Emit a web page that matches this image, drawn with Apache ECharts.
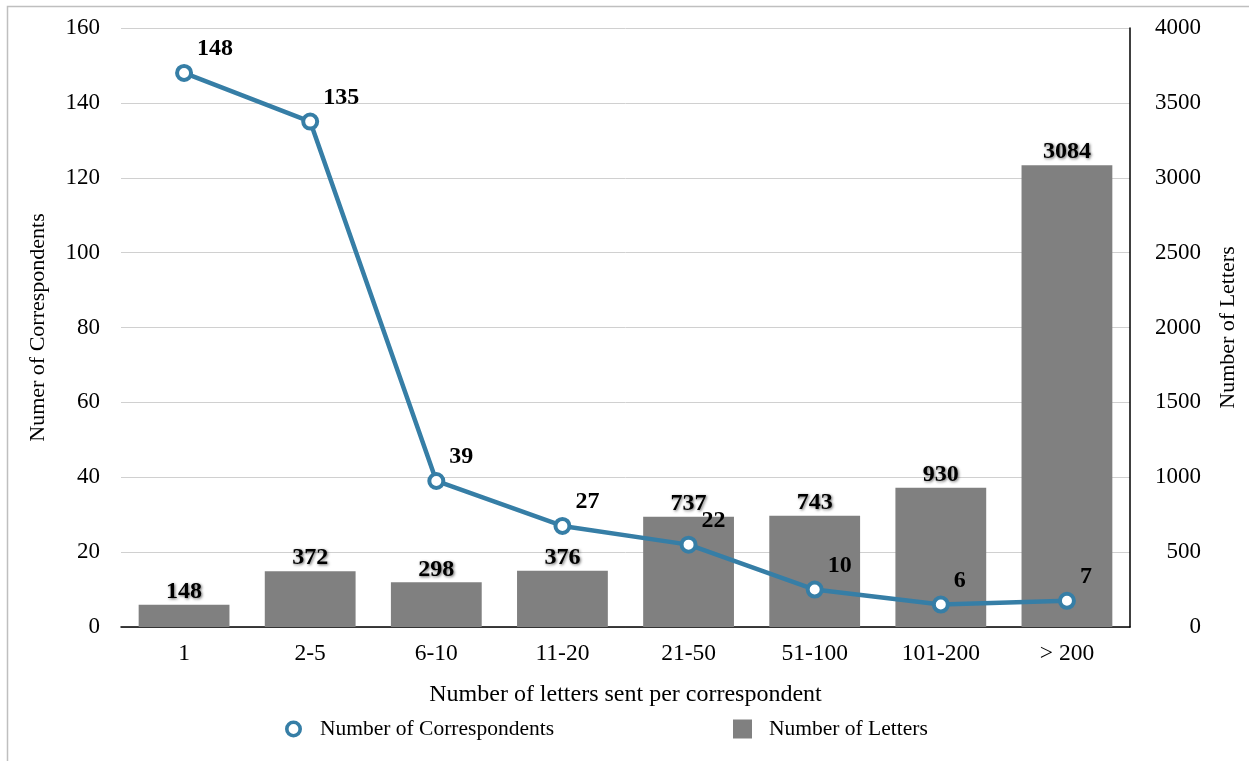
<!DOCTYPE html>
<html>
<head>
<meta charset="utf-8">
<script src="https://cdn.jsdelivr.net/npm/echarts@6/dist/echarts.min.js"></script>
<style>
  html, body { margin: 0; padding: 0; background: #fff; }
  #main { width: 1249px; height: 761px; }
</style>
</head>
<body>
<div id="main"></div>
<script>
const categories = ["1", "2-5", "6-10", "11-20", "21-50", "51-100", "101-200", "> 200"];
const correspondents = [148, 135, 39, 27, 22, 10, 6, 7];
const letters = [148, 372, 298, 376, 737, 743, 930, 3084];

const serif = "'Liberation Serif', 'Times New Roman', serif";
const lineColor = "#367ea6";
const barColor = "#808080";
const ring = "path://M8,0A8,8,0,1,1,8,16A8,8,0,1,1,8,0ZM8,3.4A4.6,4.6,0,1,0,8,12.6A4.6,4.6,0,1,0,8,3.4Z";

const options = {
  animation: false,
  textStyle: { fontFamily: serif },
  graphic: [{
    type: "rect",
    shape: { x: 7.5, y: 6.5, width: 1300, height: 800 },
    style: { fill: "none", stroke: "#bfbfbf", lineWidth: 1.5 },
    silent: true
  }],
  grid: { left: 121, right: 119, top: 28, bottom: 134, outerBoundsMode: "none" },
  legend: [{
    left: 280, top: 713,
    itemWidth: 17, itemHeight: 17,
    textStyle: { fontFamily: serif, fontSize: 21.5, color: "#000", padding: [0, 0, 0, 13] },
    data: [{ name: "Number of Correspondents", icon: ring,
      itemStyle: { color: lineColor, borderWidth: 0 } }]
  }, {
    left: 728, top: 713,
    itemWidth: 19, itemHeight: 19,
    textStyle: { fontFamily: serif, fontSize: 21.5, color: "#000", padding: [0, 0, 0, 12] },
    data: [{ name: "Number of Letters", icon: "rect" }]
  }],
  xAxis: {
    type: "category",
    data: categories,
    name: "Number of letters sent per correspondent",
    nameLocation: "middle",
    nameGap: 56,
    nameTextStyle: { fontFamily: serif, fontSize: 24, color: "#000" },
    axisLine: { lineStyle: { color: "#000", width: 1.5 } },
    axisTick: { show: false },
    axisLabel: { fontFamily: serif, fontSize: 23.5, color: "#000", margin: 15 }
  },
  yAxis: [{
    type: "value",
    min: 0, max: 160, interval: 20,
    name: "Numer of Correspondents",
    nameLocation: "middle",
    nameGap: 72,
    nameTextStyle: { fontFamily: serif, fontSize: 22, color: "#000" },
    axisLine: { show: false },
    axisTick: { show: false },
    axisLabel: { fontFamily: serif, fontSize: 23, color: "#000", margin: 21 },
    splitLine: { lineStyle: { color: "#d0d0d0", width: 1 } }
  }, {
    type: "value",
    min: 0, max: 4000, interval: 500,
    name: "Number of Letters",
    nameLocation: "middle",
    nameGap: 87,
    nameTextStyle: { fontFamily: serif, fontSize: 22, color: "#000" },
    axisLine: { show: true, lineStyle: { color: "#000", width: 1.5 } },
    axisTick: { show: false },
    axisLabel: { fontFamily: serif, fontSize: 23, color: "#000", margin: 71, align: "right",
      formatter: (v) => String(v) },
    splitLine: { show: false }
  }],
  series: [{
    name: "Number of Letters",
    type: "bar",
    yAxisIndex: 1,
    data: letters,
    barCategoryGap: "28%",
    itemStyle: { color: barColor },
    label: {
      show: true, position: "top", distance: 1,
      fontFamily: serif, fontSize: 24, fontWeight: "bold", color: "#000",
      textShadowColor: "rgba(0,0,0,0.6)", textShadowBlur: 3,
      textShadowOffsetX: 1, textShadowOffsetY: 1
    },
    z: 2
  }, {
    name: "Number of Correspondents",
    type: "line",
    yAxisIndex: 0,
    data: correspondents,
    symbol: "circle",
    symbolSize: 14,
    lineStyle: { color: lineColor, width: 4.5 },
    itemStyle: { color: "#fff", borderColor: lineColor, borderWidth: 4 },
    label: {
      show: true, position: "top", distance: 5, align: "left", offset: [13, 2],
      fontFamily: serif, fontSize: 24, fontWeight: "bold", color: "#000"
    },
    z: 5
  }]
};

const myChart = echarts.init(document.getElementById("main"));
myChart.setOption(options);
window.onresize = function() {
  myChart.resize();
};
</script>
</body>
</html>
